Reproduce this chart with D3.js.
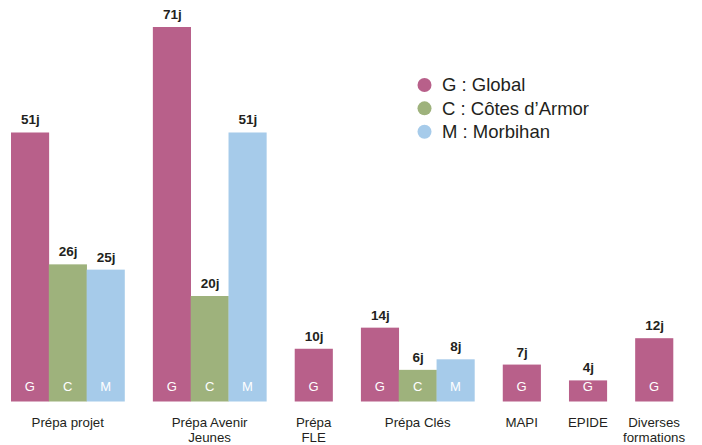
<!DOCTYPE html>
<html>
<head>
<meta charset="utf-8">
<script src="https://cdn.jsdelivr.net/npm/d3@7"></script>
<style>
html,body{margin:0;padding:0;background:#fff;}
svg{display:block;font-family:"Liberation Sans",Arial,Helvetica,sans-serif;}
</style>
</head>
<body>
<svg id="chart" width="702" height="445"></svg>
<script>
const categories = ["Prépa projet", "Prépa Avenir Jeunes", "Prépa FLE", "Prépa Clés", "MAPI", "EPIDE", "Diverses formations"];
const categoryLines = [["Prépa projet"], ["Prépa Avenir", "Jeunes"], ["Prépa", "FLE"], ["Prépa Clés"], ["MAPI"], ["EPIDE"], ["Diverses", "formations"]];
const seriesKeys = ["G", "C", "M"];
const seriesNames = ["G : Global", "C : Côtes d’Armor", "M : Morbihan"];
const globalValues = [51, 71, 10, 14, 7, 4, 12];
const cotesValues = [26, 20, null, 6, null, null, null];
const morbihanValues = [25, 51, null, 8, null, null, null];
const colors = ["#b8608a", "#9eb27c", "#a6cbea"];

(function () {
const svg = d3.select("#chart");
const plotLeft = 11, plotRight = 673, baseline = 401.5, plotTop = 27;
const gapUnits = 0.75;

const seriesVals = [globalValues, cotesValues, morbihanValues];
const bars = [];
const groups = [];
let unit = 0;
categories.forEach((cat, i) => {
  const start = unit;
  seriesKeys.forEach((k, s) => {
    const v = seriesVals[s][i];
    if (v !== null && v !== undefined) {
      bars.push({cat: i, key: k, s, value: v, u: unit});
      unit += 1;
    }
  });
  groups.push({i, start, end: unit});
  unit += gapUnits;
});
const totalUnits = unit - gapUnits;

const x = d3.scaleLinear().domain([0, totalUnits]).range([plotLeft, plotRight]);
const y = d3.scaleLinear().domain([0, 71]).range([baseline, plotTop]);
const bw = x(1) - x(0);

const g = svg.append("g");

g.selectAll("rect.bar").data(bars).enter().append("rect")
  .attr("class", "bar")
  .attr("x", d => x(d.u))
  .attr("y", d => y(d.value))
  .attr("width", bw + 0.3)
  .attr("height", d => y(0) - y(d.value))
  .attr("fill", d => colors[d.s]);

g.selectAll("text.val").data(bars).enter().append("text")
  .attr("class", "val")
  .attr("x", d => x(d.u + 0.5) + 0.5)
  .attr("y", d => y(d.value) - 8)
  .attr("text-anchor", "middle")
  .attr("font-size", 13.5)
  .attr("font-weight", "bold")
  .attr("fill", "#231f20")
  .text(d => d.value + "j");

g.selectAll("text.key").data(bars).enter().append("text")
  .attr("class", "key")
  .attr("x", d => x(d.u + 0.5))
  .attr("y", baseline - 10.5)
  .attr("text-anchor", "middle")
  .attr("font-size", 13)
  .attr("fill", "#ffffff")
  .text(d => d.key);

const cl = g.selectAll("text.cat").data(groups).enter().append("text")
  .attr("class", "cat")
  .attr("text-anchor", "middle")
  .attr("font-size", 13.3)
  .attr("fill", "#231f20");
cl.each(function(d) {
  const cx = (x(d.start) + x(d.end)) / 2;
  d3.select(this).selectAll("tspan").data(categoryLines[d.i]).enter().append("tspan")
    .attr("x", cx)
    .attr("y", (t, j) => baseline + 25.5 + j * 14.5)
    .text(t => t);
});

const lg = svg.append("g");
const ly = d3.scalePoint().domain(seriesKeys).range([85, 131.7]);
seriesKeys.forEach((k, s) => {
  lg.append("circle")
    .attr("cx", 424.5)
    .attr("cy", ly(k))
    .attr("r", 7)
    .attr("fill", colors[s]);
  lg.append("text")
    .attr("x", 442)
    .attr("y", ly(k) + 6.3)
    .attr("font-size", 18.5)
    .attr("fill", "#231f20")
    .text(seriesNames[s]);
});
})();
</script>
</body>
</html>
